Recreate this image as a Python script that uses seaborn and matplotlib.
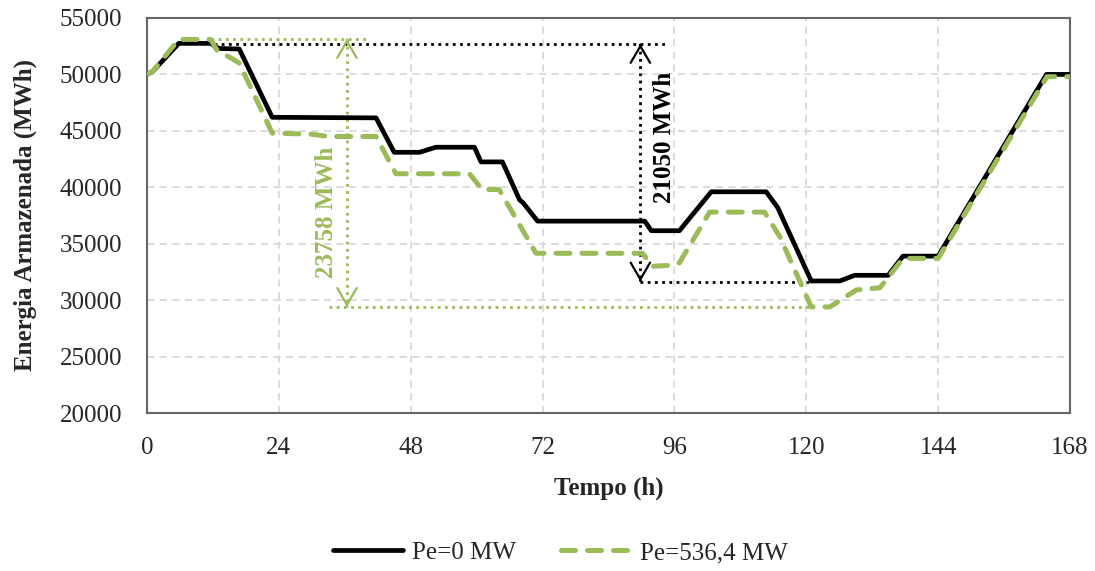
import matplotlib
matplotlib.use("Agg")
import matplotlib.pyplot as plt
import pandas as pd
import seaborn as sns

# Data
t_pe0 = [0, 1, 5.8, 11.6, 13.1, 16.8, 22.8, 41.7, 45, 49.6, 52.6, 59.6, 60.8,
         64.7, 67.8, 68.5, 71.1, 90.6, 91.8, 96.9, 102.7, 112.7, 114.8, 120.9,
         126.1, 128.8, 134.9, 137.6, 144, 163.7, 168]
e_pe0 = [50000, 50250, 52750, 52750, 52300, 52250, 46200, 46150, 43100, 43100,
         43550, 43550, 42250, 42250, 38900, 38600, 37000, 37000, 36150, 36150,
         39600, 39600, 38200, 31700, 31700, 32200, 32200, 33900, 33900, 50000,
         50000]

t_pe536 = [0, 1, 5.8, 11.6, 12.8, 15.5, 16.8, 22.8, 30, 33, 41.7, 45.3, 58.7,
           61, 64.1, 70.8, 90.2, 92, 95.7, 96.9, 102.4, 112.4, 115.2, 120.9,
           124.3, 129.1, 133.4, 137.6, 144, 163.8, 168]
e_pe536 = [50000, 50250, 53100, 53100, 52100, 51400, 51000, 44800, 44700,
           44500, 44500, 41200, 41200, 39800, 39800, 34150, 34150, 33000,
           33100, 33300, 37800, 37800, 35600, 29400, 29400, 30900, 31100,
           33700, 33700, 49800, 49800]

labels = ["Pe=0 MW", "Pe=536,4 MW"]
x_ticks = [0, 24, 48, 72, 96, 120, 144, 168]
y_ticks = list(range(20000, 55001, 5000))

GREEN = "#9BBB59"

sns.set_style("white")
plt.rcParams["font.family"] = ["Liberation Serif", "DejaVu Serif"]
plt.rcParams["font.size"] = 18

fig = plt.figure(figsize=(10.95, 5.71), dpi=100)
ax = fig.add_axes([0.1342, 0.2767, 0.8430, 0.6918])

df0 = pd.DataFrame({"t": t_pe0, "E": e_pe0})
df1 = pd.DataFrame({"t": t_pe536, "E": e_pe536})

sns.lineplot(data=df0, x="t", y="E", ax=ax, color="black", lw=3.4,
             label=labels[0], zorder=4)
sns.lineplot(data=df1, x="t", y="E", ax=ax, color=GREEN, lw=3.6,
             label=labels[1], zorder=5)
ax.lines[1].set_dashes([2.8, 2.4])
ax.lines[1].set_dash_capstyle("round")

ax.set_xlim(0, 168)
ax.set_ylim(20000, 55000)
ax.set_xticks(x_ticks)
ax.set_yticks(y_ticks)
ax.grid(True, color="#d9d9d9", linestyle=(0, (4, 3)), lw=1.3)
ax.tick_params(axis="both", length=0, labelsize=18)
ax.tick_params(axis="x", pad=17)
ax.tick_params(axis="y", pad=18)
for s in ax.spines.values():
    s.set_color("#666666")
    s.set_linewidth(1.5)

ax.set_xlabel("Tempo (h)", fontweight="bold", fontsize=18, labelpad=13)
ax.set_ylabel("Energia Armazenada (MWh)", fontweight="bold", fontsize=18,
              labelpad=16)

# Annotations: black span (Pe=0)
dot = (0, (1, 1.6))
ax.plot([12.2, 94.2], [52700, 52700], color="black", lw=2, ls=dot, zorder=3)
ax.plot([89.8, 120.6], [31650, 31650], color="black", lw=2, ls=dot, zorder=3)
ax.plot([89.8, 89.8], [52700, 31650], color="black", lw=2, ls=dot, zorder=3)
# Annotations: green span (Pe=536,4)
ax.plot([11.7, 40.5], [53140, 53140], color=GREEN, lw=2, ls=dot, zorder=3)
ax.plot([33.2, 121], [29400, 29400], color=GREEN, lw=2, ls=dot, zorder=3)
ax.plot([36.4, 36.4], [53140, 29400], color=GREEN, lw=2, ls=dot, zorder=3)

head = "->, head_length=0.6, head_width=0.35"
for x, y0, y1, c in [(89.8, 52700, 52600, "black"), (89.8, 31650, 31750, "black"),
                     (36.4, 53140, 53040, GREEN), (36.4, 29400, 29500, GREEN)]:
    ax.annotate("", xy=(x, y0), xytext=(x, y1),
                arrowprops=dict(arrowstyle=head, color=c, lw=1.6,
                                mutation_scale=20, shrinkA=0, shrinkB=0),
                zorder=6)

ax.text(94.2, 44450, "21050 MWh", rotation=90, ha="center", va="center",
        fontweight="bold", fontsize=18, color="black")
ax.text(32.6, 37800, "23758 MWh", rotation=90, ha="center", va="center",
        fontweight="bold", fontsize=18, color=GREEN)

handles, labs = ax.get_legend_handles_labels()
ax.get_legend().remove()
fig.legend(handles, labs, loc="center", bbox_to_anchor=(0.512, 0.032),
           ncol=2, frameon=False, fontsize=18, handlelength=2.8,
           columnspacing=1.8, handletextpad=0.35)

fig.savefig("out.png", dpi=100)
